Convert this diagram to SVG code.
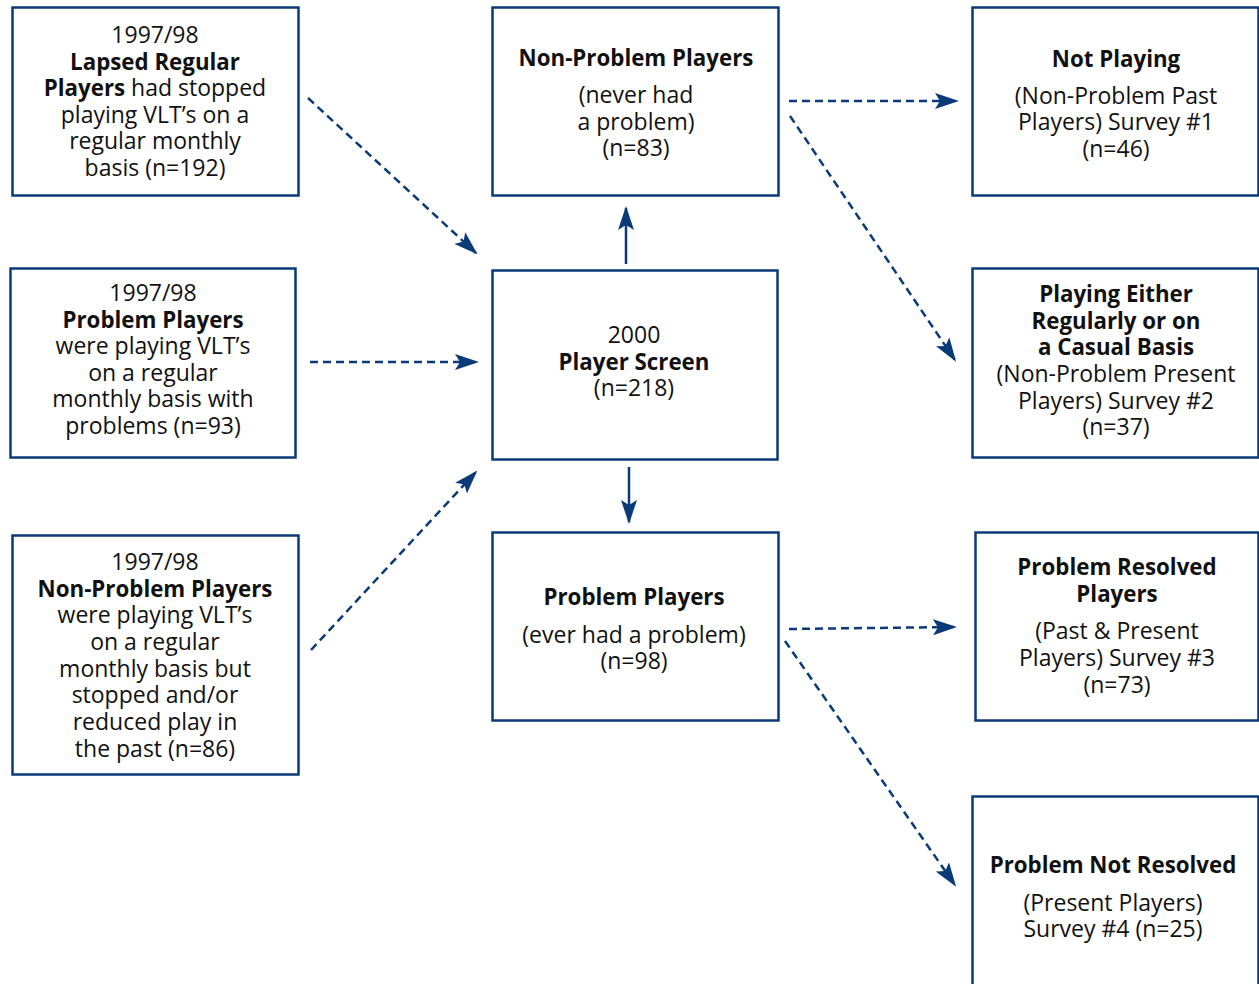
<svg xmlns="http://www.w3.org/2000/svg" width="1259" height="984" viewBox="0 0 1259 984">
<style>
.box{fill:#fff;stroke:#0b3a78;stroke-width:2.5}
text{font-family:"Open Sans","Noto Sans",sans-serif;font-size:23px;fill:#111;text-anchor:middle}
.b{font-weight:bold;font-size:22.3px}
.dash{stroke:#0b3a78;stroke-width:2.5;fill:none;stroke-dasharray:8 5}
.solid{stroke:#0b3a78;stroke-width:2.5;fill:none}
</style>
<defs>
<marker id="ah" markerUnits="userSpaceOnUse" markerWidth="24" markerHeight="16" viewBox="0 0 24 16" refX="22" refY="8" orient="auto">
<path d="M0,0 L24,8 L0,16 L5,8 z" fill="#0b3a78"/>
</marker>
</defs>
<rect width="1259" height="984" fill="#fff"/>
<g id="connectors">
<line class="dash" x1="308" y1="98" x2="476" y2="253" marker-end="url(#ah)"/>
<line class="dash" x1="310" y1="362" x2="477" y2="362" marker-end="url(#ah)"/>
<line class="dash" x1="311" y1="650" x2="476" y2="472" marker-end="url(#ah)"/>
<line class="solid" x1="626" y1="264" x2="626" y2="208" marker-end="url(#ah)"/>
<line class="solid" x1="629" y1="467" x2="629" y2="522" marker-end="url(#ah)"/>
<line class="dash" x1="789" y1="101" x2="957" y2="101" marker-end="url(#ah)"/>
<line class="dash" x1="790" y1="116" x2="955" y2="360" marker-end="url(#ah)"/>
<line class="dash" x1="789" y1="629" x2="955" y2="627" marker-end="url(#ah)"/>
<line class="dash" x1="785" y1="641" x2="955" y2="885" marker-end="url(#ah)"/>
</g>
<g id="lapsed">
<rect class="box" x="12.5" y="7.5" width="286" height="188"/>
<text x="155" y="43">1997/98</text>
<text x="155" y="70" class="b">Lapsed Regular</text>
<text x="155" y="96"><tspan class="b">Players</tspan> had stopped</text>
<text x="155" y="123">playing VLT’s on a</text>
<text x="155" y="149">regular monthly</text>
<text x="155" y="176">basis (n=192)</text>
</g>
<g id="problem97">
<rect class="box" x="10.5" y="268.5" width="285" height="189"/>
<text x="153" y="301">1997/98</text>
<text x="153" y="328" class="b">Problem Players</text>
<text x="153" y="354">were playing VLT’s</text>
<text x="153" y="381">on a regular</text>
<text x="153" y="407">monthly basis with</text>
<text x="153" y="434">problems (n=93)</text>
</g>
<g id="nonproblem97">
<rect class="box" x="12.5" y="535.5" width="286" height="239"/>
<text x="155" y="570">1997/98</text>
<text x="155" y="597" class="b">Non-Problem Players</text>
<text x="155" y="623">were playing VLT’s</text>
<text x="155" y="650">on a regular</text>
<text x="155" y="677">monthly basis but</text>
<text x="155" y="703">stopped and/or</text>
<text x="155" y="730">reduced play in</text>
<text x="155" y="757">the past (n=86)</text>
</g>
<g id="nonproblem">
<rect class="box" x="492.5" y="7.5" width="286" height="188"/>
<text x="636" y="66" class="b">Non-Problem Players</text>
<text x="636" y="103">(never had</text>
<text x="636" y="130">a problem)</text>
<text x="636" y="156">(n=83)</text>
</g>
<g id="screen">
<rect class="box" x="492.5" y="270.5" width="285" height="189"/>
<text x="634" y="343">2000</text>
<text x="634" y="370" class="b">Player Screen</text>
<text x="634" y="396">(n=218)</text>
</g>
<g id="problem">
<rect class="box" x="492.5" y="532.5" width="286" height="188"/>
<text x="634" y="605" class="b">Problem Players</text>
<text x="634" y="643">(ever had a problem)</text>
<text x="634" y="669">(n=98)</text>
</g>
<g id="survey1">
<rect class="box" x="972.5" y="7.5" width="286" height="188"/>
<text x="1116" y="67" class="b">Not Playing</text>
<text x="1116" y="104">(Non-Problem Past</text>
<text x="1116" y="130">Players) Survey #1</text>
<text x="1116" y="157">(n=46)</text>
</g>
<g id="survey2">
<rect class="box" x="972.5" y="268.5" width="286" height="189"/>
<text x="1116" y="302" class="b">Playing Either</text>
<text x="1116" y="329" class="b">Regularly or on</text>
<text x="1116" y="355" class="b">a Casual Basis</text>
<text x="1116" y="382">(Non-Problem Present</text>
<text x="1116" y="409">Players) Survey #2</text>
<text x="1116" y="435">(n=37)</text>
</g>
<g id="survey3">
<rect class="box" x="975.5" y="532.5" width="283" height="188"/>
<text x="1117" y="575" class="b">Problem Resolved</text>
<text x="1117" y="602" class="b">Players</text>
<text x="1117" y="639">(Past &amp; Present</text>
<text x="1117" y="666">Players) Survey #3</text>
<text x="1117" y="693">(n=73)</text>
</g>
<g id="survey4">
<rect class="box" x="972.5" y="796.5" width="286" height="200"/>
<text x="1113" y="873" class="b">Problem Not Resolved</text>
<text x="1113" y="911">(Present Players)</text>
<text x="1113" y="937">Survey #4 (n=25)</text>
</g>
</svg>
